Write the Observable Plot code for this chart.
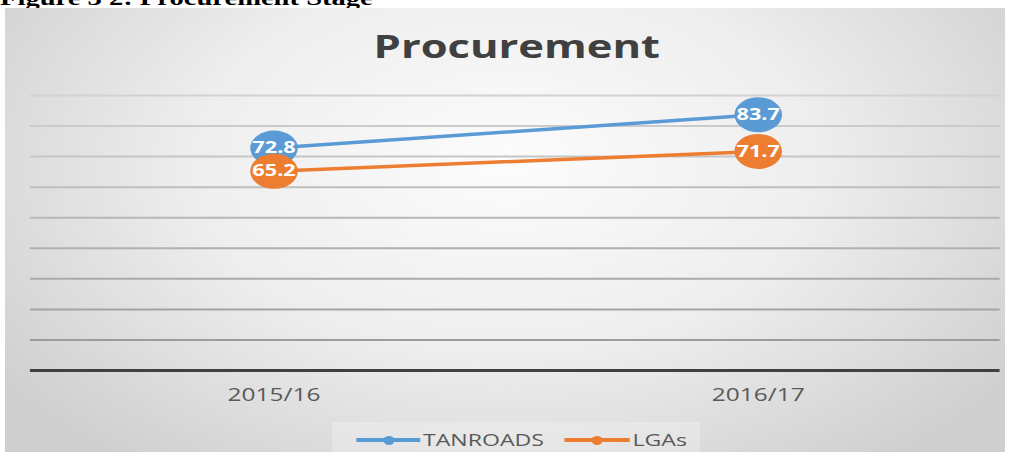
<!DOCTYPE html>
<html><head><meta charset="utf-8">
<script src="https://cdn.jsdelivr.net/npm/d3@7"></script>
<script src="https://cdn.jsdelivr.net/npm/@observablehq/plot@0.6"></script>
<style>
html,body{margin:0;padding:0;background:#fff;width:1010px;height:452px;overflow:hidden;}
#bg{position:absolute;left:5px;top:8px;width:1000px;height:444px;
  background:radial-gradient(ellipse 62% 85% at 50% 35%, #fcfcfc 0%, #eeeeee 50%, #cfcfcf 100%);}
#stage{position:absolute;left:0;top:0;width:743px;height:452px;transform:scaleX(1.36);transform-origin:0 0;}
#cap{position:absolute;left:0;top:0;width:743px;height:8px;overflow:hidden;}
#cap span{position:absolute;left:0;top:-12px;font:bold 21px "Liberation Serif","DejaVu Serif",serif;line-height:20px;color:#000;white-space:nowrap;}
#title{position:absolute;left:8.5px;top:23.6px;width:743px;text-align:center;font:bold 32px "Open Sans",sans-serif;line-height:44px;color:#404040;}
#chart{position:absolute;left:0;top:70px;}
#legbox{position:absolute;left:244px;top:422px;width:271px;height:30px;background:rgba(255,255,255,0.25);}
.sw{position:absolute;height:4px;}
.sw i{position:absolute;left:50%;top:50%;width:8px;height:9px;margin:-4.5px 0 0 -4px;border-radius:50%;}
.lt{position:absolute;font:17px "Open Sans",sans-serif;color:#595959;line-height:20px;white-space:nowrap;}
</style></head>
<body>
<div id="bg"></div>
<div id="stage">
  <div id="cap"><span id="capText"></span></div>
  <div id="title"></div>
  <div id="chart"></div>
  <div id="legbox"></div>
  <div id="legend"></div>
</div>
<script>
const captionText = "Figure 3 2: Procurement Stage";
const chartTitle = "Procurement";
const years = ["2015/16", "2016/17"];
const seriesNames = ["TANROADS", "LGAs"];
const tanroads = [72.8, 83.7];
const lgas = [65.2, 71.7];
const gridTicks = [10, 20, 30, 40, 50, 60, 70, 80, 90];
const colors = ["#5b9bd5", "#ed7d31"];

document.getElementById("capText").textContent = captionText;
document.getElementById("title").textContent = chartTitle;

const data = [];
[tanroads, lgas].forEach((vals, si) => {
  vals.forEach((v, i) => data.push({series: seriesNames[si], year: years[i], value: v}));
});

const gridColor = d3.scaleLinear().domain([10, 90]).range(["#9c9c9c", "#d2d2d2"]);

const chart = Plot.plot({
  width: 743,
  height: 340,
  marginLeft: 22,
  marginRight: 8,
  marginTop: 25,
  marginBottom: 40,
  style: {background: "transparent", overflow: "visible"},
  x: {type: "point", domain: years, padding: 0.5, label: null},
  y: {domain: [0, 90], axis: null},
  color: {domain: seriesNames, range: colors},
  marks: [
    Plot.ruleY(gridTicks, {stroke: d => gridColor(d), strokeWidth: 2}),
    Plot.ruleY([0], {stroke: "#404040", strokeWidth: 3}),
    Plot.axisX({tickSize: 0, tickPadding: 18, fontSize: 18, fill: "#595959", fontFamily: "Open Sans", label: null}),
    Plot.line(data, {x: "year", y: "value", z: "series", stroke: "series", strokeWidth: 3.5}),
    Plot.dot(data, {x: "year", y: "value", fill: "series", r: 17.5, stroke: "none"}),
    Plot.text(data, {x: "year", y: "value", text: d => d.value.toFixed(1), fill: "white", fontSize: 16, fontWeight: "bold", fontFamily: "Open Sans"})
  ]
});
document.getElementById("chart").appendChild(chart);

// legend
const leg = document.getElementById("legend");
const legItems = [
  {name: seriesNames[0], color: colors[0], x0: 262, x1: 309, tx: 311},
  {name: seriesNames[1], color: colors[1], x0: 415, x1: 463, tx: 465}
];
legItems.forEach(it => {
  const sw = document.createElement("div");
  sw.className = "sw";
  sw.style.left = it.x0 + "px";
  sw.style.width = (it.x1 - it.x0) + "px";
  sw.style.top = "438px";
  sw.style.background = it.color;
  const dot = document.createElement("i");
  dot.style.background = it.color;
  sw.appendChild(dot);
  leg.appendChild(sw);
  const t = document.createElement("div");
  t.className = "lt";
  t.style.left = it.tx + "px";
  t.style.top = "430px";
  t.textContent = it.name;
  leg.appendChild(t);
});
</script>
</body></html>
